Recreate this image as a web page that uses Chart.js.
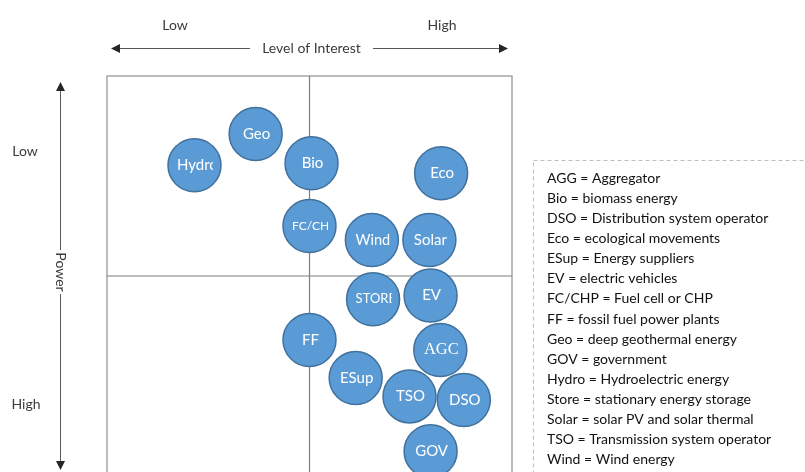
<!DOCTYPE html>
<html>
<head>
<meta charset="utf-8">
<script src="https://cdn.jsdelivr.net/npm/chart.js@4.4.1/dist/chart.umd.min.js"></script>
<style>
body{margin:0;background:#fff;overflow:hidden}
#wrap{width:805px;height:480px}
</style>
</head>
<body>
<div id="wrap"><canvas id="mainChart" width="805" height="480"></canvas></div>
<script>

// stakeholders: interest (0 low .. 10 high), power (0 low at top .. 10 high at bottom)
const stakeholders=["Hydro","Geo","Bio","Eco","FC/CHF","Wind","Solar","STORE","EV","FF","AGC","ESup","TSO","DSO","GOV"]
const interest=[2.16,3.67,5.05,8.25,5.0,6.54,7.96,6.57,7.99,5.0,8.23,6.14,7.47,8.81,7.99]
const power=[2.23,1.45,2.18,2.43,3.75,4.1,4.1,5.58,5.49,6.6,6.85,7.55,8.01,8.1,9.38]
const labelSize=[15,15,15,15,12,14.5,15,13,15,15,16.5,15,15,15,15]

const legendLines=[
"AGG = Aggregator",
"Bio = biomass energy",
"DSO = Distribution system operator",
"Eco = ecological movements",
"ESup = Energy suppliers",
"EV = electric vehicles",
"FC/CHP = Fuel cell or CHP",
"FF = fossil fuel power plants",
"Geo = deep geothermal energy",
"GOV = government",
"Hydro = Hydroelectric energy",
"Store = stationary energy storage",
"Solar = solar PV and solar thermal",
"TSO = Transmission system operator",
"Wind = Wind energy"
]

const interestTicks=["Low","High"]
const powerTicks=["Low","High"]

const points=stakeholders.map((s,i)=>({x:interest[i],y:power[i],r:26.5}))

function arrowHead(ctx,x,y,dir){
ctx.beginPath()
if(dir==="left"){ctx.moveTo(x,y);ctx.lineTo(x+9,y-4.5);ctx.lineTo(x+9,y+4.5)}
if(dir==="right"){ctx.moveTo(x,y);ctx.lineTo(x-9,y-4.5);ctx.lineTo(x-9,y+4.5)}
if(dir==="up"){ctx.moveTo(x,y);ctx.lineTo(x-4.5,y+9);ctx.lineTo(x+4.5,y+9)}
if(dir==="down"){ctx.moveTo(x,y);ctx.lineTo(x-4.5,y-9);ctx.lineTo(x+4.5,y-9)}
ctx.closePath()
ctx.fill()
}

const matrixPlugin={
id:"matrix",
beforeDatasetsDraw(chart){
const {ctx,chartArea:a,scales:{x,y}}=chart
ctx.save()
ctx.strokeStyle="#a6a6a6"
ctx.lineWidth=1.5
ctx.strokeRect(a.left,a.top,a.right-a.left,a.bottom-a.top)
const mx=x.getPixelForValue(5)
const my=y.getPixelForValue(5)
ctx.strokeStyle="#7f7f7f"
ctx.lineWidth=1.2
ctx.beginPath()
ctx.moveTo(mx,a.top);ctx.lineTo(mx,a.bottom)
ctx.moveTo(a.left,my);ctx.lineTo(a.right,my)
ctx.stroke()
ctx.restore()
},
afterDatasetsDraw(chart){
const ctx=chart.ctx
const meta=chart.getDatasetMeta(0)
ctx.save()
ctx.fillStyle="#ffffff"
ctx.textBaseline="middle"
meta.data.forEach((pt,i)=>{
const name=stakeholders[i]
ctx.font=name==="AGC"?labelSize[i]+"px 'Liberation Serif'":labelSize[i]+"px Lato"
ctx.save()
ctx.beginPath()
ctx.rect(pt.x-18,pt.y-20,36.5,40)
ctx.clip()
const w=ctx.measureText(name).width
if(w>36){
ctx.textAlign="left"
ctx.fillText(name,pt.x-17.5,pt.y)
}else{
ctx.textAlign="center"
ctx.fillText(name,pt.x+1,pt.y)
}
ctx.restore()
})
ctx.restore()
},
afterDraw(chart){
const {ctx,chartArea:a}=chart
const cx=(a.left+a.right)/2
ctx.save()
ctx.fillStyle="#3b3b3b"
ctx.strokeStyle="#595959"
ctx.lineWidth=1
ctx.font="14px Lato"
ctx.textAlign="center"
ctx.textBaseline="middle"

// interest axis on top
ctx.fillText(interestTicks[0],175,25)
ctx.fillText(interestTicks[1],442,25)
ctx.fillText("Level of Interest",cx+2,48)
ctx.beginPath()
ctx.moveTo(114,48.5);ctx.lineTo(250,48.5)
ctx.moveTo(373,48.5);ctx.lineTo(505,48.5)
ctx.stroke()
ctx.fillStyle="#262626"
arrowHead(ctx,111,48.5,"left")
arrowHead(ctx,508,48.5,"right")

// power axis on the left
ctx.fillStyle="#3b3b3b"
ctx.fillText(powerTicks[0],25,151)
ctx.fillText(powerTicks[1],26,404)
ctx.beginPath()
ctx.moveTo(60.5,86);ctx.lineTo(60.5,250)
ctx.moveTo(60.5,294);ctx.lineTo(60.5,466)
ctx.stroke()
ctx.fillStyle="#262626"
arrowHead(ctx,60.5,82,"up")
arrowHead(ctx,60.5,470,"down")
ctx.save()
ctx.translate(60.5,272)
ctx.rotate(Math.PI/2)
ctx.fillStyle="#3b3b3b"
ctx.fillText("Power",0,0)
ctx.restore()

// key box
ctx.strokeStyle="#bfbfbf"
ctx.setLineDash([4,3])
ctx.strokeRect(533.5,160.5,300,340)
ctx.setLineDash([])
ctx.fillStyle="#111111"
ctx.textAlign="left"
ctx.font="14px Lato"
legendLines.forEach((t,i)=>{
ctx.fillText(t,547,178.5+i*20.07)
})
ctx.restore()
}
}

const ctx=document.getElementById("mainChart")

new Chart(ctx,{
type:"bubble",
data:{
datasets:[{
label:"Stakeholders",
data:points,
backgroundColor:"#5b9bd5",
borderColor:"#41719c",
borderWidth:1.5,
clip:false
}]
},
options:{
responsive:false,
animation:false,
layout:{autoPadding:false,padding:{left:107,top:76,right:293,bottom:4}},
scales:{
x:{type:"linear",min:0,max:10,display:false},
y:{type:"linear",min:0,max:10,reverse:true,display:false}
},
plugins:{
legend:{display:false},
tooltip:{enabled:false}
}
},
plugins:[matrixPlugin]
})

</script>
</body>
</html>
